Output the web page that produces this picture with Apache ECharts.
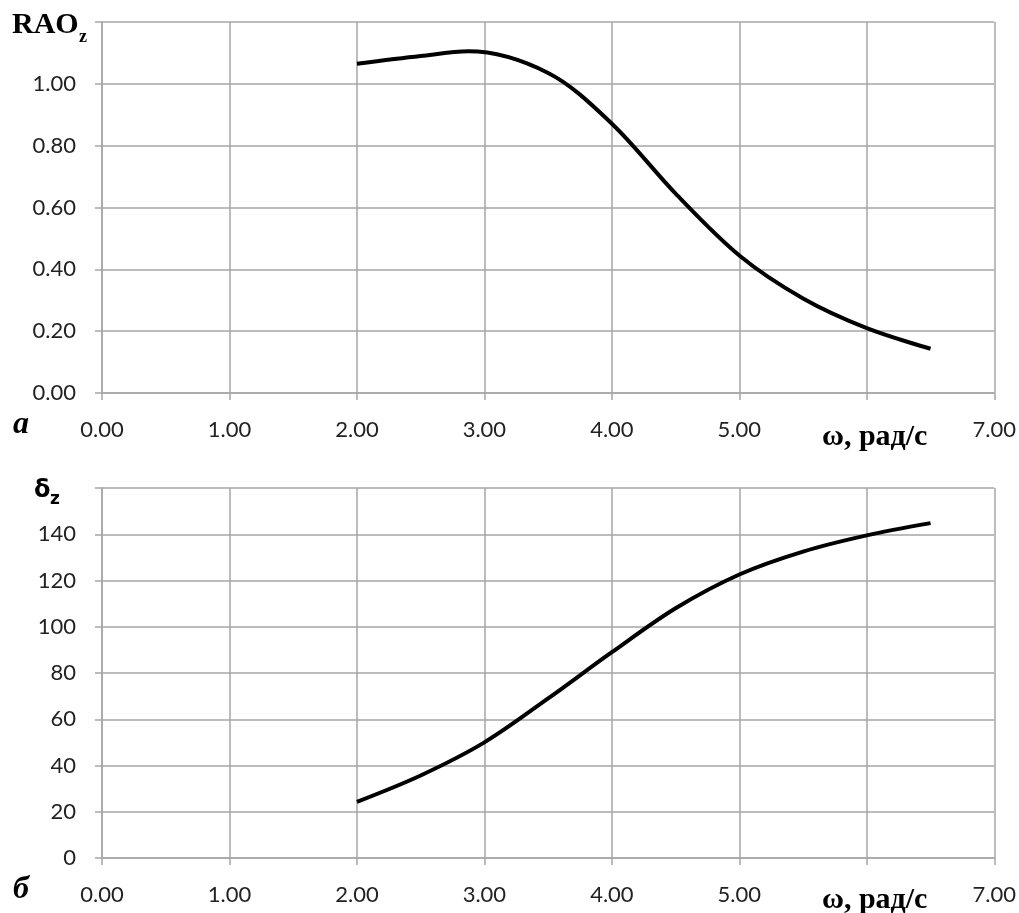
<!DOCTYPE html>
<html>
<head>
<meta charset="utf-8">
<script src="https://cdn.jsdelivr.net/npm/echarts@6/dist/echarts.min.js"></script>
<style>
  html, body { margin: 0; padding: 0; background: #fff; }
  #chart { width: 1019px; height: 913px; }
</style>
</head>
<body>
<div id="chart"></div>
<script>
  // ===== 数据 =====
  const omegaRao = [2.0, 2.5, 2.875, 3.5, 4.0, 4.5, 5.0, 5.5, 6.0, 6.5];
  const raoZ = [1.065, 1.09, 1.105, 1.035, 0.871, 0.645, 0.445, 0.306, 0.21, 0.143];
  const omegaDelta = [2.0, 2.5, 3.0, 3.5, 4.0, 4.5, 5.0, 5.5, 6.0, 6.5];
  const deltaZ = [24.3, 35.7, 50, 69, 89, 108, 122.6, 132.5, 139.5, 144.8];

  const xTicks = { min: 0, max: 7, step: 1, hidden: [6] };
  const raoTicks = { min: 0, max: 1.2, step: 0.2 };
  const deltaTicks = { min: 0, max: 160, step: 20 };

  const GRAY = "#a6a6a6";
  const LABEL_FONT = "Lato, 'Open Sans', sans-serif";
  const SERIF = "'Liberation Serif', 'DejaVu Serif', serif";
  const SANS = "'DejaVu Sans', sans-serif";

  function xAxis(gridIndex) {
    return {
      type: "value", gridIndex,
      min: xTicks.min, max: xTicks.max, interval: xTicks.step,
      axisLine: { show: true, lineStyle: { color: GRAY, width: 1.5 } },
      axisTick: { show: true, length: 7, lineStyle: { color: GRAY, width: 1.5 } },
      splitLine: { show: true, lineStyle: { color: GRAY, width: 1.5 } },
      axisLabel: {
        margin: 26, color: "#222", fontSize: 22, fontFamily: LABEL_FONT,
        formatter: v => (xTicks.hidden.some(h => Math.abs(h - v) < 1e-9) ? "" : v.toFixed(2)),
      },
    };
  }
  function yAxis(gridIndex, t, digits) {
    return {
      type: "value", gridIndex,
      min: t.min, max: t.max, interval: t.step,
      axisLine: { show: true, lineStyle: { color: GRAY, width: 1.5 } },
      axisTick: { show: true, length: 7, lineStyle: { color: GRAY, width: 1.5 } },
      splitLine: { show: true, lineStyle: { color: GRAY, width: 1.5 } },
      axisLabel: {
        margin: 26, color: "#222", fontSize: 22, fontFamily: LABEL_FONT,
        formatter: v => (v >= t.max - 1e-9 ? "" : v.toFixed(digits)),
      },
    };
  }

  const txt = (x, y, text, family, size, italic) => ({
    type: "text", x, y,
    style: {
      text, fill: "#000",
      fontFamily: family, fontSize: size, fontWeight: "bold",
      fontStyle: italic ? "italic" : "normal",
      verticalAlign: "middle", align: "left",
    },
  });

  const chart = echarts.init(document.getElementById("chart"), null, { renderer: "canvas" });
  chart.setOption({
    animation: false,
    backgroundColor: "#fff",
    grid: [
      { left: 102, right: 24, top: 22, height: 371 },
      { left: 102, right: 24, top: 488, height: 370 },
    ],
    xAxis: [xAxis(0), xAxis(1)],
    yAxis: [yAxis(0, raoTicks, 2), yAxis(1, deltaTicks, 0)],
    series: [
      {
        type: "line", xAxisIndex: 0, yAxisIndex: 0,
        data: omegaRao.map((w, i) => [w, raoZ[i]]),
        smooth: 0.33, showSymbol: false,
        lineStyle: { color: "#000", width: 4 },
      },
      {
        type: "line", xAxisIndex: 1, yAxisIndex: 1,
        data: omegaDelta.map((w, i) => [w, deltaZ[i]]),
        smooth: 0.33, showSymbol: false,
        lineStyle: { color: "#000", width: 4 },
      },
    ],
    graphic: [
      txt(12, 25, "RAO", SERIF, 30),
      txt(79, 37, "z", SERIF, 18),
      txt(34, 491, "δ", SANS, 24),
      txt(50, 500, "z", SANS, 17),
      txt(13, 425, "a", SERIF, 32, true),
      txt(13, 890, "б", SERIF, 32, true),
      txt(822, 437, "ω, рад/с", SERIF, 30),
      txt(822, 900, "ω, рад/с", SERIF, 30),
    ],
  });
</script>
</body>
</html>
